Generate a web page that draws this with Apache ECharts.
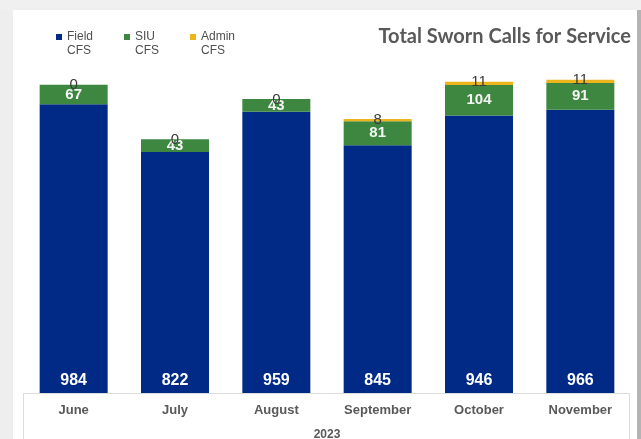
<!DOCTYPE html>
<html>
<head>
<meta charset="utf-8">
<script src="https://cdn.jsdelivr.net/npm/echarts@6/dist/echarts.min.js"></script>
<style>
  html, body { margin: 0; padding: 0; background: #fff; }
  #chart { width: 641px; height: 439px; }
</style>
</head>
<body>
<div id="chart"></div>
<script>
const months = ['June', 'July', 'August', 'September', 'October', 'November'];
const fieldCfs = [984, 822, 959, 845, 946, 966];
const siuCfs = [67, 43, 43, 81, 104, 91];
const adminCfs = [0, 0, 0, 8, 11, 11];
const year = '2023';

const FONT = '"Liberation Sans", Arial, sans-serif';

const chart = echarts.init(document.getElementById('chart'));

chart.setOption({
  backgroundColor: '#fff',
  animation: false,
  title: {
    text: 'Total Sworn Calls for Service',
    right: 5,
    top: 22,
    textStyle: { fontFamily: 'Lato, "Open Sans", sans-serif', fontWeight: 'bold', fontSize: 20, color: '#595959' },
  },
  legend: {
    left: 51,
    top: 11,
    itemWidth: 6,
    itemHeight: 6,
    itemGap: 31,
    icon: 'rect',
    // leading blank line keeps the icon level with the first word
    formatter: (name) => '\n' + name.replace(' ', '\n'),
    textStyle: { fontFamily: FONT, fontSize: 12, color: '#4f4f4f', lineHeight: 14 },
  },
  grid: { left: 23, right: 10, top: 41, bottom: 46, outerBoundsMode: 'none' },
  xAxis: {
    type: 'category',
    data: months,
    name: year,
    nameLocation: 'middle',
    nameGap: 36,
    nameTextStyle: { fontFamily: FONT, fontWeight: 'bold', fontSize: 12, color: '#595959' },
    axisLine: { show: false },
    axisTick: { show: false },
    axisLabel: { margin: 11, fontFamily: FONT, fontWeight: 'bold', fontSize: 13, color: '#595959' },
  },
  yAxis: { type: 'value', min: 0, max: 1200, show: false, splitLine: { show: false } },
  series: [
    {
      name: 'Field CFS',
      type: 'bar',
      stack: 'cfs',
      barWidth: 68,
      data: fieldCfs,
      itemStyle: { color: '#012A87' },
      label: { show: true, position: 'insideBottom', distance: 4, fontFamily: FONT, fontWeight: 'bold', fontSize: 16, color: '#fff' },
    },
    {
      name: 'SIU CFS',
      type: 'bar',
      stack: 'cfs',
      data: siuCfs,
      itemStyle: { color: '#3D8740' },
      label: { show: true, position: 'inside', fontFamily: FONT, fontWeight: 'bold', fontSize: 15, color: '#f4f4f4' },
    },
    {
      name: 'Admin CFS',
      type: 'bar',
      stack: 'cfs',
      data: adminCfs,
      itemStyle: { color: '#EDB51C' },
      label: { show: true, position: 'top', distance: -8, fontFamily: FONT, fontSize: 15, color: '#3a3a3a' },
    },
  ],
  graphic: [
    { type: 'rect', shape: { x: 0, y: 0, width: 13, height: 439 }, style: { fill: '#eeeeee' }, z: 100 },
    { type: 'rect', shape: { x: 0, y: 0, width: 641, height: 10 }, style: { fill: '#f0f0f0' }, z: 100 },
    { type: 'rect', shape: { x: 637, y: 10, width: 4, height: 429 }, style: { fill: '#b4b4b4' }, z: 100 },
    { type: 'rect', shape: { x: 23.5, y: 393.5, width: 606, height: 60 }, style: { fill: 'none', stroke: '#dcdcdc', lineWidth: 1 }, z: 0 },
  ],
});
</script>
</body>
</html>
